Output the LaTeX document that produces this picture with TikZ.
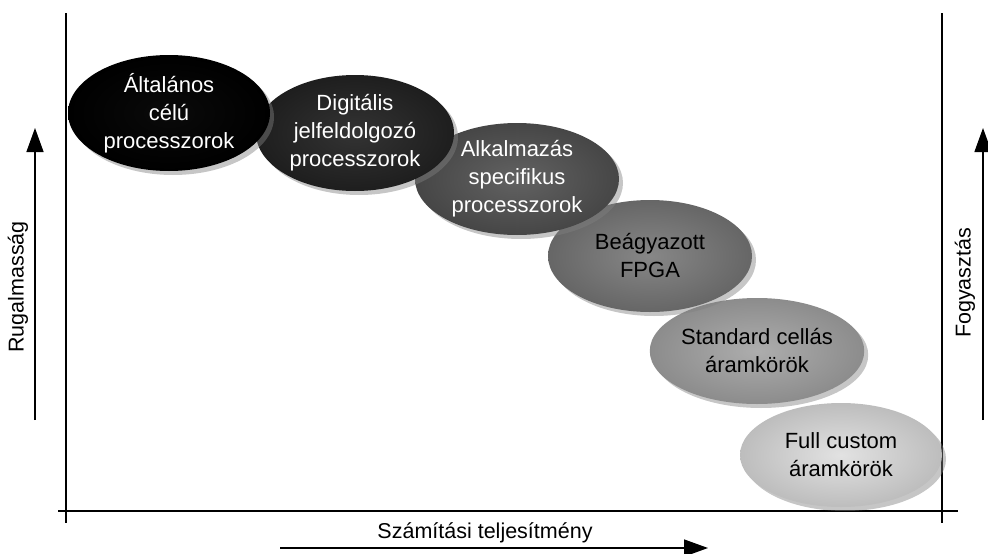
\documentclass[tikz,border=0pt]{standalone}
\usepackage{fontspec}
\setmainfont{Liberation Sans}
\usetikzlibrary{shapes.geometric,shadows,arrows.meta}
\definecolor{eAin}{HTML}{0A0A0A}\definecolor{eAout}{HTML}{000000}
\definecolor{eBin}{HTML}{333333}\definecolor{eBout}{HTML}{1E1E1E}
\definecolor{eCin}{HTML}{626262}\definecolor{eCout}{HTML}{464646}
\definecolor{eDin}{HTML}{878787}\definecolor{eDout}{HTML}{666666}
\definecolor{eEin}{HTML}{ADADAD}\definecolor{eEout}{HTML}{8C8C8C}
\definecolor{eFin}{HTML}{E2E2E2}\definecolor{eFout}{HTML}{BDBDBD}
\tikzset{
  blob/.style={ellipse, inner sep=0pt, align=center,
    font=\fontsize{22}{28}\selectfont,
    drop shadow={shadow xshift=4pt, shadow yshift=-4pt, opacity=0.45}},
  axisline/.style={line width=1.6pt},
  axisarrow/.style={line width=1.4pt, -{Triangle[length=24pt,width=17pt]}},
  axislabel/.style={font=\fontsize{21.5}{25}\selectfont}
}
\begin{document}
\begin{tikzpicture}[x=1pt,y=-1pt]
\useasboundingbox (0,0) rectangle (988,554);
% axes frame
\coordinate (lt) at (66,13); \coordinate (lb) at (66,523);
\coordinate (rt) at (942,13); \coordinate (rb) at (942,523);
\coordinate (hl) at (58,511); \coordinate (hr) at (958,511);
\draw[axisline] (lt) -- (lb);
\draw[axisline] (rt) -- (rb);
\draw[axisline] (hl) -- (hr);
% side arrows
\coordinate (la0) at (35,420); \coordinate (la1) at (35,128);
\coordinate (ra0) at (983,420); \coordinate (ra1) at (983,128);
\coordinate (ba0) at (280,548); \coordinate (ba1) at (708,548);
\draw[axisarrow] (la0) -- (la1);
\draw[axisarrow] (ra0) -- (ra1);
\draw[axisarrow] (ba0) -- (ba1);
\node[axislabel, rotate=90] (rug) at (18,287) {Rugalmasság};
\node[axislabel, rotate=90] (fogy) at (965,283) {Fogyasztás};
\node[axislabel] (szam) at (485,533) {Számítási teljesítmény};
% ellipses, back to front
\node[blob, minimum width=202pt, minimum height=104pt, inner color=eFin, outer color=eFout, text=black] (e6) at (841,455) {Full custom\\áramkörök};
\node[blob, minimum width=202pt, minimum height=106pt, inner color=eEin, outer color=eEout, text=black] (e5) at (757,351) {Standard cellás\\áramkörök};
\node[blob, minimum width=204pt, minimum height=112pt, inner color=eDin, outer color=eDout, text=black] (e4) at (650,256) {Beágyazott\\FPGA};
\node[blob, minimum width=204pt, minimum height=112pt, inner color=eCin, outer color=eCout, text=white] (e3) at (517,179) {Alkalmazás\\specifikus\\processzorok};
\node[blob, minimum width=198pt, minimum height=116pt, inner color=eBin, outer color=eBout, text=white] (e2) at (355,133) {Digitális\\jelfeldolgozó\\processzorok};
\node[blob, minimum width=202pt, minimum height=116pt, inner color=eAin, outer color=eAout, text=white] (e1) at (169,113) {Általános\\célú\\processzorok};
\end{tikzpicture}
\end{document}
